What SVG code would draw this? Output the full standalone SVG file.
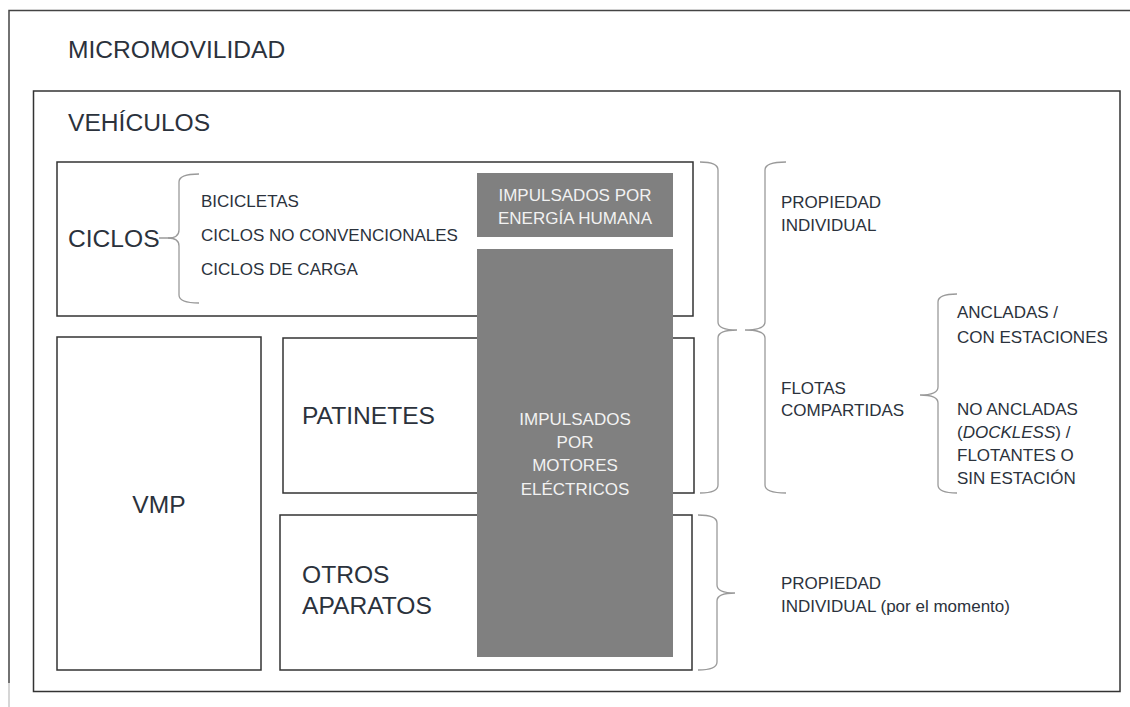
<svg xmlns="http://www.w3.org/2000/svg" width="1130" height="707" viewBox="0 0 1130 707">
<style>
text{font-family:"Liberation Sans",Arial,Helvetica,sans-serif;fill:#2b323c}
.big{font-size:24.6px}
.sm{font-size:17px}
.box{fill:#fff;stroke:#333;stroke-width:1.5}
.gray{fill:#808080;stroke:none}
.lt{fill:#f2f2f2;font-size:17px;text-anchor:middle}
.brace{fill:none;stroke:#9a9a9a;stroke-width:1.3}
</style>
<rect width="1130" height="707" fill="#fff"/>
<g id="micromovilidad">
<path d="M9 683 V10.5 H1130" fill="none" stroke="#444" stroke-width="1.5"/>
<path d="M9 683 V707" fill="none" stroke="#c8c8c8" stroke-width="1.5"/>
<text class="big" x="68" y="58">MICROMOVILIDAD</text>
</g>
<g id="vehiculos">
<rect class="box" x="33.5" y="91" width="1086.5" height="600.5"/>
<text class="big" x="68" y="131">VEHÍCULOS</text>
</g>
<g id="ciclos">
<rect class="box" x="57" y="162" width="636" height="154"/>
<text class="big" x="68" y="247">CICLOS</text>
<text class="sm" x="201" y="207">BICICLETAS</text>
<text class="sm" x="201" y="241">CICLOS NO CONVENCIONALES</text>
<text class="sm" x="201" y="275">CICLOS DE CARGA</text>
</g>
<g id="vmp">
<rect class="box" x="57" y="337" width="204" height="333"/>
<text class="big" x="159" y="513" text-anchor="middle">VMP</text>
</g>
<g id="patinetes">
<rect class="box" x="283" y="338" width="411" height="155"/>
<text class="big" x="302" y="424">PATINETES</text>
</g>
<g id="otros">
<rect class="box" x="280" y="515" width="412" height="155"/>
<text class="big" x="302" y="583">OTROS</text>
<text class="big" x="302" y="614">APARATOS</text>
</g>
<g id="energia-humana">
<rect class="gray" x="477" y="173" width="196" height="64"/>
<text class="lt" x="575" y="201">IMPULSADOS POR</text>
<text class="lt" x="575" y="224">ENERGÍA HUMANA</text>
</g>
<g id="motores-electricos">
<rect class="gray" x="477" y="249" width="196" height="408"/>
<text class="lt" x="575" y="425">IMPULSADOS</text>
<text class="lt" x="575" y="448">POR</text>
<text class="lt" x="575" y="471">MOTORES</text>
<text class="lt" x="575" y="495">ELÉCTRICOS</text>
</g>
<g id="propiedad-individual">
<text class="sm" x="781" y="208">PROPIEDAD</text>
<text class="sm" x="781" y="231">INDIVIDUAL</text>
</g>
<g id="flotas-compartidas">
<text class="sm" x="781" y="394">FLOTAS</text>
<text class="sm" x="781" y="416">COMPARTIDAS</text>
</g>
<g id="ancladas">
<text class="sm" x="957" y="318">ANCLADAS /</text>
<text class="sm" x="957" y="343">CON ESTACIONES</text>
</g>
<g id="no-ancladas">
<text class="sm" x="957" y="415">NO ANCLADAS</text>
<text class="sm" x="957" y="438">(<tspan font-style="italic">DOCKLESS</tspan>) /</text>
<text class="sm" x="957" y="461">FLOTANTES O</text>
<text class="sm" x="957" y="484">SIN ESTACIÓN</text>
</g>
<g id="propiedad-individual-momento">
<text class="sm" x="781" y="589">PROPIEDAD</text>
<text class="sm" x="781" y="612">INDIVIDUAL (por el momento)</text>
</g>
<g id="connectors">
<path class="brace" d="M159 238 H168 Q179 238 179 230 V182 Q179 174 199 174"/>
<path class="brace" d="M168 238 Q179 238 179 246 V295 Q179 303 199 303"/>
<path class="brace" d="M700 162 Q718 162 718 170 V322 Q718 330 737 330 Q718 330 718 338 V485 Q718 493 700 493"/>
<path class="brace" d="M786 162 Q765 162 765 170 V322 Q765 330 745 330 Q765 330 765 338 V485 Q765 493 786 493"/>
<path class="brace" d="M957 294 Q938 294 938 302 V387 Q938 395 920 395 Q938 395 938 403 V485 Q938 493 957 493"/>
<path class="brace" d="M698 515 Q717 515 717 523 V585 Q717 593 735 593 Q717 593 717 601 V662 Q717 670 698 670"/>
</g>
</svg>
